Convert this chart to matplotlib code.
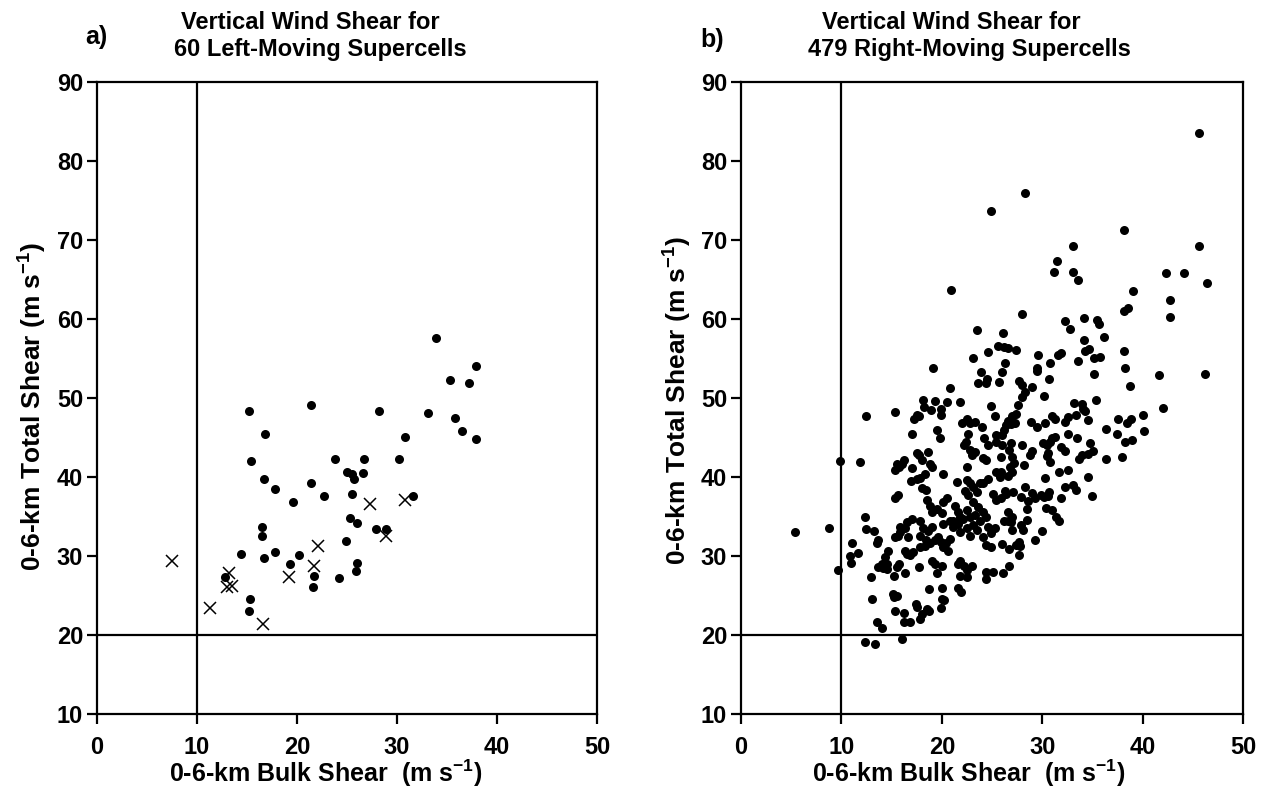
import matplotlib
matplotlib.use("Agg")
import matplotlib.pyplot as plt

plt.rcParams['font.family'] = ['Liberation Sans', 'DejaVu Sans']
plt.rcParams['font.weight'] = 'bold'
plt.rcParams['mathtext.fontset'] = 'custom'
plt.rcParams['mathtext.rm'] = 'Liberation Sans:bold'
plt.rcParams['mathtext.it'] = 'Liberation Sans:bold'
plt.rcParams['mathtext.bf'] = 'Liberation Sans:bold'

# panel a) left-moving supercells
lm_dot_x = [15.2, 21.4, 28.2, 16.8, 30.8, 15.4, 23.8, 26.7, 30.2, 25.0, 25.5, 25.7,
            26.6, 16.7, 17.8, 21.4, 22.7, 19.6, 25.5, 25.3, 26.0, 27.9, 28.9, 16.5,
            16.5, 24.9, 14.4, 16.7, 17.8, 20.2, 19.3, 26.0, 25.9, 21.7, 21.6, 24.2,
            12.8, 15.3, 15.2, 33.9, 37.9, 35.3, 37.2, 33.1, 35.8, 36.5, 37.9, 31.6]
lm_dot_y = [48.4, 49.1, 48.4, 45.5, 45.1, 42.0, 42.3, 42.3, 42.3, 40.6, 40.4, 39.8,
            40.5, 39.7, 38.5, 39.3, 37.6, 36.9, 37.8, 34.8, 34.2, 33.4, 33.4, 33.7,
            32.6, 31.9, 30.3, 29.8, 30.5, 30.1, 29.0, 29.1, 28.1, 27.5, 26.1, 27.2,
            27.3, 24.6, 23.1, 57.6, 54.0, 52.3, 51.9, 48.1, 47.5, 45.8, 44.8, 37.6]
lm_x_x = [27.3, 30.8, 22.1, 28.9, 21.7, 19.2, 13.2, 13.0, 13.5, 11.3, 16.6, 7.5]
lm_x_y = [36.6, 37.1, 31.3, 32.6, 28.7, 27.4, 27.8, 26.1, 26.2, 23.4, 21.4, 29.4]

# panel b) right-moving supercells
rm_x = [
    # upper left
    24.9, 20.9, 23.5, 25.6, 24.6, 23.1, 19.1, 23.9, 23.6, 24.4, 24.5, 25.7, 20.8,
    18.1, 19.3, 20.5, 21.8,
    # upper right
    45.6, 28.3, 38.1, 33.1, 45.6, 31.5, 31.2, 33.1, 33.6, 42.3, 44.1, 46.4, 39.0,
    42.7, 38.1, 38.5, 42.7, 28.0, 32.3, 32.8, 34.2, 35.5, 35.7, 36.1, 34.2, 26.1,
    26.6, 27.4, 26.2, 29.6, 31.6, 31.9, 34.7, 34.3, 33.6, 35.2, 35.8, 38.1, 38.2,
    26.3, 26.0, 29.5, 29.5, 30.8, 30.7, 35.2, 41.6, 46.2, 27.7,
    # middle right
    28.0, 29.0, 28.3, 28.0, 30.2, 38.7, 35.4, 42.0,
    27.6, 27.4, 27.0, 26.6, 26.4, 26.2, 26.0, 27.3, 26.9,
    33.2, 34.0, 33.4, 34.1, 34.3, 34.6,
    28.9, 29.5, 30.3, 31.0, 31.3, 32.3, 32.6,
    37.5, 38.4, 38.8, 40.0, 36.3, 37.4, 40.1, 38.2, 38.9,
    32.6, 33.5, 31.0, 31.3, 30.1, 30.5, 30.8, 31.9, 32.3,
    34.8, 35.1, 34.6, 34.0, 33.7, 36.3, 37.9,
    30.6, 30.5, 30.8, 29.0, 28.8, 28.0,
    26.9, 26.7, 27.0, 27.2, 26.8, 27.0, 26.6,
    26.0, 25.9, 25.9, 25.8, 28.2, 31.7, 32.6, 30.3, 34.6,
    32.3, 33.1, 33.4, 35.0, 31.9,
    28.3, 29.0, 30.2, 29.3, 27.9, 30.6, 28.6, 29.9, 30.7,
    27.1, 26.3, 25.9, 26.4,
    28.5, 30.4, 31.0, 31.4, 31.7,
    26.6, 26.2, 26.6, 26.9, 27.0, 28.5, 27.9, 28.1, 27.0, 30.0, 29.3,
    26.0, 26.7, 27.4, 27.7, 27.8, 27.7, 26.7, 26.1,
    # left and lower
    12.4, 9.85, 11.8, 5.4, 8.75, 9.65, 12.3, 12.4, 13.2, 11.1, 11.6, 10.9, 11.0,
    13.6, 13.5, 12.9, 13.0, 13.5, 14.0, 12.3, 13.3, 16.0, 15.3,
    15.3, 16.2, 16.2, 16.8, 17.4, 17.5, 18.0, 17.8, 18.5, 18.7,
    15.1, 15.5, 15.2, 19.9, 20.0, 20.2, 18.7, 20.0, 21.6, 21.9,
    15.2, 16.3, 17.7, 19.3, 19.5, 20.0, 21.6, 21.8, 22.2, 22.5, 23.0, 24.4, 24.4, 25.1,
    13.6, 14.5, 14.5, 15.7, 15.5,
    # core, upper half
    18.2, 18.9, 19.9, 19.9, 24.9, 25.3,
    22.5, 23.3, 22.8, 22.0, 17.5, 17.7, 17.2, 17.0, 19.5, 19.8,
    24.0, 24.2, 24.6, 22.6, 22.4, 22.2, 25.4, 25.4,
    22.8, 23.3, 23.0, 24.1, 24.4,
    17.5, 17.7, 18.6, 18.0, 18.8, 19.0,
    16.2, 16.0, 15.5, 15.3, 15.7, 17.0,
    20.1, 18.3, 17.8, 17.5, 16.9, 22.5, 24.6, 24.1, 25.4,
    21.5, 22.5, 22.8, 22.3, 23.1, 23.5, 22.6, 23.8,
    18.0, 18.4, 15.3, 15.6,
    18.5, 18.8, 19.5, 20.1, 20.5, 19.0, 20.0,
    21.3, 21.6, 21.8, 21.1,
    23.1, 23.6, 24.1, 24.4, 23.3, 22.5, 25.1, 25.4,
    17.8, 17.0, 16.5,
    # core, lower half
    15.8, 16.3, 15.8, 15.3, 15.6, 16.6,
    17.8, 18.1, 18.6, 19.0,
    17.8, 18.3, 18.8, 18.4, 19.3, 19.6, 19.9, 20.1, 20.4, 20.8, 20.6,
    21.1, 21.6, 21.8, 22.5, 22.8, 23.1, 23.5, 23.8, 24.1, 24.6, 24.4, 24.9, 25.3, 24.9,
    20.8, 20.1, 22.8, 22.1,
    16.3, 17.1, 16.8, 16.5,
    14.6, 14.3, 14.0, 14.1,
    19.0, 21.8, 22.5,
]
rm_y = [
    73.7, 63.7, 58.6, 56.6, 55.8, 55.1, 53.8, 53.3, 51.9, 51.9, 52.4, 52.0, 51.3,
    49.8, 49.6, 49.5, 49.5,
    83.5, 75.9, 71.3, 69.3, 69.2, 67.4, 66.0, 66.0, 64.9, 65.8, 65.8, 64.6, 63.5,
    62.4, 61.0, 61.4, 60.3, 60.7, 59.7, 58.8, 60.1, 59.9, 59.4, 57.7, 57.4, 58.2,
    56.3, 56.1, 56.5, 55.5, 55.4, 55.7, 56.2, 55.9, 54.7, 55.1, 55.2, 56.0, 53.8,
    54.4, 53.3, 53.8, 53.4, 54.4, 52.4, 53.1, 52.9, 53.1, 52.2,
    51.7, 51.4, 50.8, 50.1, 50.3, 51.5, 49.8, 48.8,
    49.1, 48.0, 47.7, 47.1, 46.6, 46.0, 45.3, 46.9, 46.7,
    49.4, 49.3, 47.9, 48.6, 48.4, 47.2,
    47.0, 46.4, 46.8, 47.7, 47.4, 47.0, 47.6,
    47.3, 46.9, 47.4, 47.9, 46.1, 45.5, 45.8, 44.5, 44.7,
    45.5, 44.9, 45.0, 45.1, 44.3, 44.1, 44.5, 43.8, 43.3,
    44.3, 43.3, 42.9, 42.8, 42.3, 42.3, 42.6,
    43.1, 42.7, 41.9, 43.3, 42.8, 44.1,
    44.3, 43.4, 42.6, 41.8, 41.3, 40.7, 40.2,
    44.1, 42.6, 40.7, 40.0, 41.5, 40.7, 40.9, 39.9, 40.0,
    38.8, 39.0, 38.4, 37.6, 37.4,
    38.8, 38.0, 37.5, 37.3, 37.5, 37.6, 37.0, 37.7, 38.1,
    38.1, 38.3, 37.4, 37.9,
    36.0, 36.1, 35.8, 34.9, 34.4,
    35.6, 34.5, 34.5, 34.3, 35.0, 34.6, 33.9, 33.3, 33.3, 33.2, 32.1,
    31.5, 30.9, 31.4, 31.8, 31.3, 30.2, 28.7, 27.8,
    47.7, 42.0, 41.9, 33.0, 33.5, 28.3, 34.9, 33.4, 33.2, 31.6, 30.4, 30.0, 29.1,
    32.1, 31.6, 27.3, 24.6, 21.6, 20.9, 19.1, 18.9, 19.5, 48.3,
    23.0, 22.8, 21.7, 21.6, 23.9, 23.5, 22.7, 22.0, 23.3, 23.0,
    25.2, 25.0, 24.8, 23.4, 24.6, 24.4, 25.8, 26.0, 25.9, 25.5,
    27.5, 27.8, 28.6, 29.0, 27.8, 28.7, 29.0, 27.5, 28.7, 27.3, 28.8, 28.0, 27.1, 28.0,
    28.6, 29.0, 28.4, 29.0, 28.6,
    48.9, 48.5, 48.6, 47.8, 49.0, 47.7,
    47.4, 47.0, 46.8, 46.8, 47.9, 47.7, 47.4, 45.4, 45.9, 45.0,
    46.4, 45.0, 44.1, 45.5, 44.4, 44.1, 44.5, 45.3,
    43.4, 43.2, 42.8, 42.4, 42.1,
    43.1, 42.8, 43.2, 42.2, 41.7, 41.3,
    42.2, 41.7, 41.7, 40.9, 41.3, 41.2,
    40.4, 40.4, 39.9, 39.8, 39.5, 41.3, 39.8, 39.2, 40.7,
    39.4, 39.6, 39.2, 38.3, 38.8, 38.1, 37.7, 39.2,
    38.6, 38.4, 37.3, 37.7,
    37.1, 36.4, 36.0, 36.9, 37.3, 35.6, 35.4,
    36.4, 35.6, 35.0, 34.5,
    36.9, 36.2, 35.6, 35.0, 35.2, 35.8, 37.9, 37.1,
    34.5, 34.7, 34.3,
    33.7, 33.5, 33.1, 32.4, 32.5, 32.4,
    32.6, 33.5, 33.2, 33.7,
    31.1, 31.3, 31.6, 32.1, 32.0, 32.4, 31.8, 31.1, 31.6, 32.2, 30.7,
    33.7, 34.1, 33.0, 33.5, 32.6, 33.9, 33.3, 34.5, 32.4, 33.7, 31.4, 32.9, 33.5, 31.1,
    34.5, 34.1, 35.0, 34.7,
    30.7, 30.5, 30.1, 30.3,
    30.7, 29.9, 29.0, 28.5,
    29.4, 29.4, 28.2,
]

x_ticks = [0, 10, 20, 30, 40, 50]
y_ticks = [10, 20, 30, 40, 50, 60, 70, 80, 90]

fig = plt.figure(figsize=(12.62, 7.93), dpi=100)
ax_a = fig.add_axes([0.0769, 0.0995, 0.3962, 0.797])
ax_b = fig.add_axes([0.5872, 0.0995, 0.3978, 0.797])

lw = 1.6
for ax in (ax_a, ax_b):
    ax.set_xlim(0, 50)
    ax.set_ylim(10, 90)
    ax.set_xticks(x_ticks)
    ax.set_yticks(y_ticks)
    ax.tick_params(direction='out', length=7, width=lw, labelsize=17)
    ax.tick_params(axis='x', pad=9)
    ax.tick_params(axis='y', pad=3)
    for s in ax.spines.values():
        s.set_linewidth(lw)
    ax.axvline(10, color='black', lw=lw, zorder=1)
    ax.axhline(20, color='black', lw=lw, zorder=1)
    for lab in ax.get_xticklabels() + ax.get_yticklabels():
        lab.set_fontweight('bold')

ax_a.plot(lm_dot_x, lm_dot_y, 'o', color='black', ms=6.5, mew=0, zorder=3)
ax_a.plot(lm_x_x, lm_x_y, 'x', color='black', ms=8, mew=1.1, zorder=3)
ax_b.plot(rm_x, rm_y, 'o', color='black', ms=6.5, mew=0, zorder=3)

# titles, panel letters and axis labels placed like the original figure
tfs = 17
fig.text(0.2456, 0.972, 'Vertical Wind Shear for', ha='center', va='center', fontsize=tfs, fontweight='bold')
fig.text(0.254, 0.937, '60 Left-Moving Supercells', ha='center', va='center', fontsize=tfs, fontweight='bold')
fig.text(0.076, 0.953, 'a)', ha='center', va='center', fontsize=18, fontweight='bold')

fig.text(0.754, 0.972, 'Vertical Wind Shear for', ha='center', va='center', fontsize=tfs, fontweight='bold')
fig.text(0.768, 0.937, '479 Right-Moving Supercells', ha='center', va='center', fontsize=tfs, fontweight='bold')
fig.text(0.564, 0.950, 'b)', ha='center', va='center', fontsize=18, fontweight='bold')

fig.text(0.258, 0.025, '0-6-km Bulk Shear  (m s$^{-1}$)', ha='center', va='center', fontsize=18, fontweight='bold')
fig.text(0.768, 0.025, '0-6-km Bulk Shear  (m s$^{-1}$)', ha='center', va='center', fontsize=18, fontweight='bold')
fig.text(0.026, 0.487, '0-6-km Total Shear (m s$^{-1}$)', ha='center', va='center', rotation=90, fontsize=19, fontweight='bold')
fig.text(0.537, 0.495, '0-6-km Total Shear (m s$^{-1}$)', ha='center', va='center', rotation=90, fontsize=19, fontweight='bold')

fig.savefig('out.png', dpi=100)
